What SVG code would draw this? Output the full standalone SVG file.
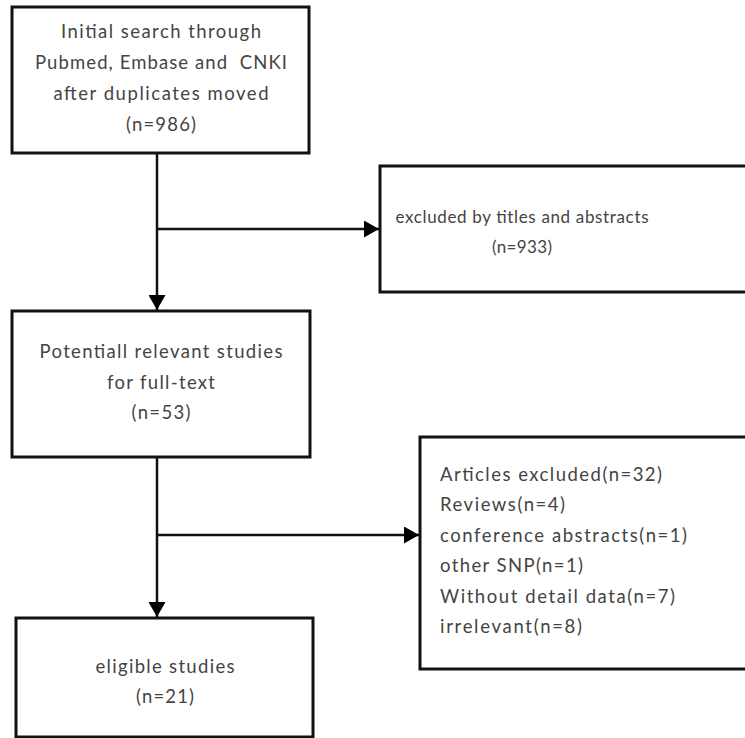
<svg xmlns="http://www.w3.org/2000/svg" width="745" height="738" viewBox="0 0 745 738">
<style>
.box{fill:#fff;stroke:#111;stroke-width:3}
.t{font-family:Lato,"Open Sans","Liberation Sans",sans-serif;font-size:18.5px;fill:#444}
.s{font-size:17px}
.c{text-anchor:middle}
.ln{stroke:#111;stroke-width:2.5;fill:none}
</style>
<defs>
<marker id="ah" markerUnits="userSpaceOnUse" markerWidth="16" markerHeight="17" refX="15" refY="8.5" orient="auto">
<path d="M0,0 L15,8.5 L0,17 Z" fill="#000"/>
</marker>
</defs>
<rect width="745" height="738" fill="#fff"/>
<g id="connectors">
<line class="ln" x1="157" y1="153" x2="157" y2="310" marker-end="url(#ah)"/>
<line class="ln" x1="157" y1="229" x2="379" y2="229" marker-end="url(#ah)"/>
<line class="ln" x1="157" y1="457" x2="157" y2="617" marker-end="url(#ah)"/>
<line class="ln" x1="157" y1="535" x2="419" y2="535" marker-end="url(#ah)"/>
</g>
<g id="n-initial">
<rect class="box" x="12" y="7" width="297" height="146"/>
<text class="t c" x="161" y="38" textLength="200" lengthAdjust="spacing">Initial search through</text>
<text class="t c" x="161" y="69" textLength="252" lengthAdjust="spacing" xml:space="preserve">Pubmed, Embase and  CNKI</text>
<text class="t c" x="161" y="100" textLength="215" lengthAdjust="spacing">after duplicates moved</text>
<text class="t c" x="161" y="131" textLength="70" lengthAdjust="spacing">(n=986)</text>
</g>
<g id="n-excluded-titles">
<rect class="box" x="380" y="166" width="380" height="126"/>
<text class="t s c" x="522" y="223" textLength="253" lengthAdjust="spacing">excluded by titles and abstracts</text>
<text class="t s c" x="522" y="253" textLength="60" lengthAdjust="spacing">(n=933)</text>
</g>
<g id="n-potential">
<rect class="box" x="12" y="311" width="298" height="146"/>
<text class="t c" x="161" y="358" textLength="243" lengthAdjust="spacing">Potentiall relevant studies</text>
<text class="t c" x="161" y="389" textLength="108" lengthAdjust="spacing">for full-text</text>
<text class="t c" x="161" y="419" textLength="59" lengthAdjust="spacing">(n=53)</text>
</g>
<g id="n-articles-excluded">
<rect class="box" x="420" y="437" width="340" height="232"/>
<text class="t" x="440" y="481" textLength="222" lengthAdjust="spacing">Articles excluded(n=32)</text>
<text class="t" x="440" y="511" textLength="125" lengthAdjust="spacing">Reviews(n=4)</text>
<text class="t" x="440" y="542" textLength="247" lengthAdjust="spacing">conference abstracts(n=1)</text>
<text class="t" x="440" y="572" textLength="143" lengthAdjust="spacing">other SNP(n=1)</text>
<text class="t" x="440" y="603" textLength="235" lengthAdjust="spacing">Without detail data(n=7)</text>
<text class="t" x="440" y="633" textLength="142" lengthAdjust="spacing">irrelevant(n=8)</text>
</g>
<g id="n-eligible">
<rect class="box" x="16" y="618" width="297" height="119"/>
<text class="t c" x="165" y="673" textLength="139" lengthAdjust="spacing">eligible studies</text>
<text class="t c" x="165" y="703" textLength="58" lengthAdjust="spacing">(n=21)</text>
</g>
</svg>
